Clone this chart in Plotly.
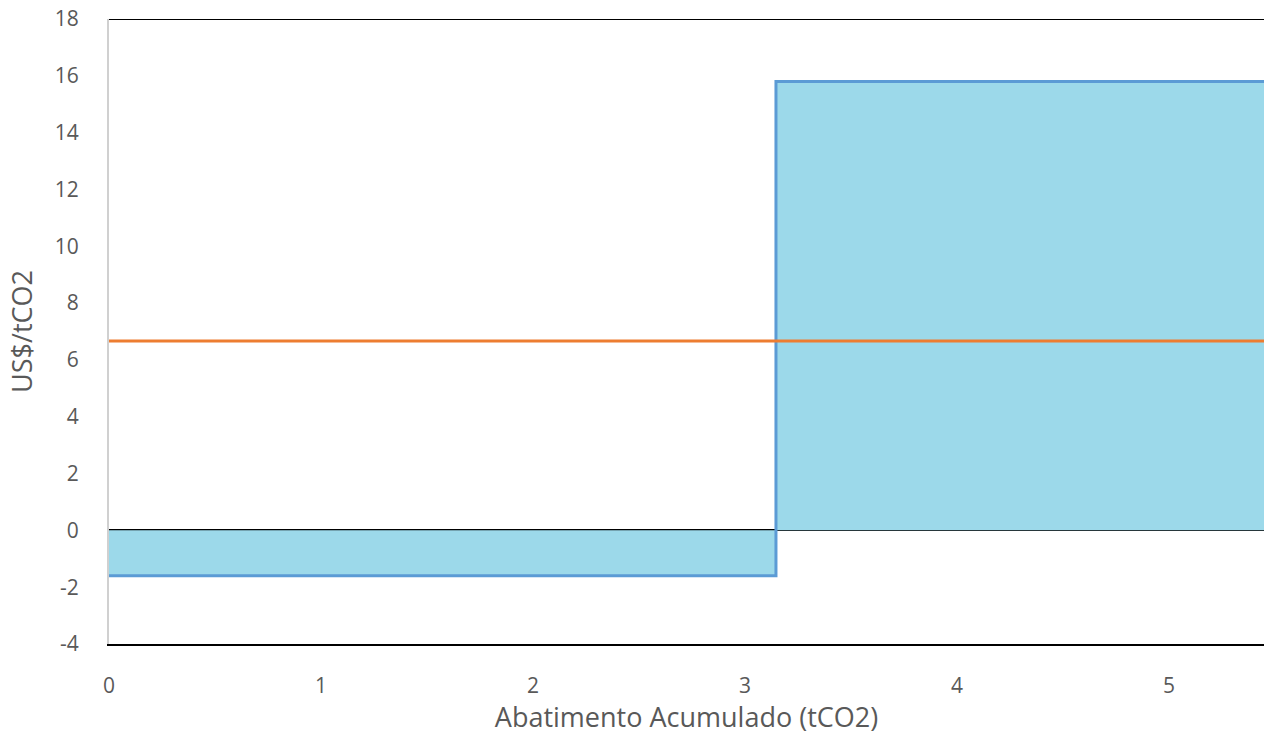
import plotly.graph_objects as go

# Data
x_edges = [0, 3.146, 5.45]          # cumulative abatement (tCO2)
costs = [-1.6, 15.8]                # US$/tCO2 for each measure
carbon_price = 6.67                 # reference price line
x_ticks = [0, 1, 2, 3, 4, 5]
y_ticks = [-4, -2, 0, 2, 4, 6, 8, 10, 12, 14, 16, 18]
y_tick_labels = [str(v) for v in y_ticks]   # plain hyphen minus

step_x = x_edges
step_y = costs + [costs[-1]]

fig = go.Figure()
fig.add_trace(go.Scatter(
    x=step_x, y=step_y, mode="lines", line_shape="hv",
    line=dict(color="#5B9BD5", width=3),
    fill="tozeroy", fillcolor="#9CD9EA", hoverinfo="skip", showlegend=False))
fig.add_trace(go.Scatter(
    x=[x_edges[0], x_edges[-1]], y=[carbon_price, carbon_price], mode="lines",
    line=dict(color="#ED7D31", width=3), showlegend=False))

fig.add_shape(type="line", xref="paper", yref="y", x0=0, x1=1, y0=18, y1=18,
              line=dict(color="#000000", width=2), layer="above")

font_family = "Open Sans, Noto Sans, sans-serif"
fig.update_layout(
    width=1264, height=735,
    margin=dict(l=109, r=0, t=19, b=91),
    paper_bgcolor="white", plot_bgcolor="white",
    font=dict(family=font_family, color="#595959", size=21),
    xaxis=dict(range=[0, 5.448], tickvals=x_ticks, showgrid=False, zeroline=False,
               showline=True, linecolor="#000000", linewidth=2,
               ticks="", ticklabelstandoff=22, ticklabeloverflow="allow",
               tickfont=dict(size=21, color="#595959"),
               title=dict(text="Abatimento Acumulado (tCO2)", standoff=4,
                          font=dict(size=27, color="#595959"))),
    yaxis=dict(range=[-4, 18], tickvals=y_ticks, ticktext=y_tick_labels,
               showgrid=False,
               zeroline=True, zerolinecolor="#000000", zerolinewidth=2,
               showline=True, linecolor="#D0D0D0", linewidth=2, ticks="",
               ticklabelstandoff=24, ticklabeloverflow="allow",
               tickfont=dict(size=21, color="#595959"),
               title=dict(text="US$/tCO2", standoff=14,
                          font=dict(size=27, color="#595959"))),
)
fig.write_html("out.html", config={"displayModeBar": False},
               post_script="document.body.style.margin='0';document.body.style.overflow='hidden';")
